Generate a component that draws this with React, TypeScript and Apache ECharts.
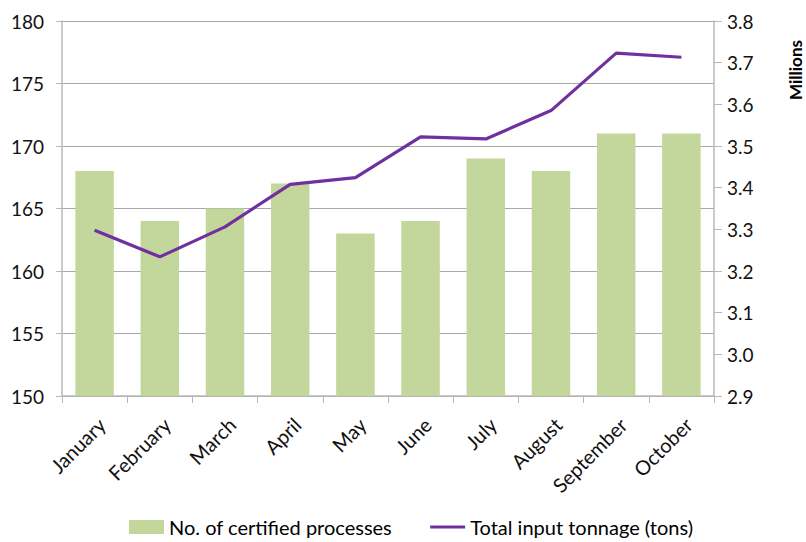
import React, { useEffect, useRef } from "react";
import * as echarts from "echarts";

const months = ["January", "February", "March", "April", "May", "June", "July", "August", "September", "October"];
const certifiedProcesses = [168, 164, 165, 167, 163, 164, 169, 168, 171, 171];
const inputTonnageMillions = [3.298, 3.234, 3.306, 3.408, 3.424, 3.522, 3.517, 3.585, 3.723, 3.713];
const barName = "No. of certified processes";
const lineName = "Total input tonnage (tons)";

const FONT = "Lato, 'Open Sans', sans-serif";

export default function App() {
  const ref = useRef<HTMLDivElement>(null);
  useEffect(() => {
    if (!ref.current) return;
    const chart = echarts.init(ref.current, null, { renderer: "svg" });
    chart.setOption({
      animation: false,
      backgroundColor: "#ffffff",
      textStyle: { fontFamily: FONT },
      grid: { left: 62, right: 92, top: 21, bottom: 146, containLabel: false },
      legend: {
        bottom: 0,
        left: 124,
        itemGap: 38,
        itemWidth: 35,
        itemHeight: 14,
        textStyle: { fontSize: 20, color: "#000", fontFamily: FONT },
        data: [
          { name: barName, icon: "rect" },
          { name: lineName, icon: "path://M0,0H38V3H0Z" },
        ],
      },
      xAxis: {
        type: "category",
        data: months,
        boundaryGap: true,
        axisLine: { lineStyle: { color: "#b8b8b8", width: 1.5 } },
        axisTick: { show: true, length: 7, alignWithLabel: false, lineStyle: { color: "#b8b8b8" } },
        axisLabel: {
          rotate: 45,
          fontSize: 20,
          color: "#111",
          margin: 18,
          fontFamily: FONT,
          interval: 0,
          verticalAlign: "top",
        },
      },
      yAxis: [
        {
          type: "value",
          min: 150,
          max: 180,
          interval: 5,
          axisLine: { show: true, lineStyle: { color: "#b8b8b8", width: 1.5 } },
          axisTick: { show: true, inside: false, length: 6, lineStyle: { color: "#b8b8b8" } },
          axisLabel: { fontSize: 19, color: "#111", margin: 18, fontFamily: FONT },
          splitLine: { show: true, lineStyle: { color: "#a8a8a8", width: 1.2 } },
        },
        {
          type: "value",
          min: 2.9,
          max: 3.8,
          interval: 0.1,
          position: "right",
          axisLine: { show: true, lineStyle: { color: "#b8b8b8", width: 1.5 } },
          axisTick: { show: true, inside: false, length: 8, lineStyle: { color: "#b8b8b8" } },
          axisLabel: {
            fontSize: 19,
            color: "#111",
            margin: 13,
            fontFamily: FONT,
            formatter: (v: number) => v.toFixed(1),
          },
          splitLine: { show: false },
        },
      ],
      graphic: [
        {
          type: "text",
          x: 795,
          y: 70,
          rotation: Math.PI / 2,
          style: {
            text: "Millions",
            fontSize: 17,
            lineHeight: 14,
            fontWeight: "bold",
            fontFamily: FONT,
            fill: "#000",
            align: "center",
            verticalAlign: "middle",
          },
        },
      ],
      series: [
        {
          name: barName,
          type: "bar",
          data: certifiedProcesses,
          yAxisIndex: 0,
          barWidth: "59%",
          itemStyle: { color: "#c3d69b" },
          z: 2,
        },
        {
          name: lineName,
          type: "line",
          data: inputTonnageMillions,
          yAxisIndex: 1,
          showSymbol: false,
          symbol: "none",
          lineStyle: { color: "#7030a0", width: 3.2 },
          itemStyle: { color: "#7030a0" },
          z: 3,
        },
      ],
    });
    return () => chart.dispose();
  }, []);
  return <div ref={ref} style={{ position: "absolute", left: 0, top: 0, width: 806, height: 542 }} />;
}
